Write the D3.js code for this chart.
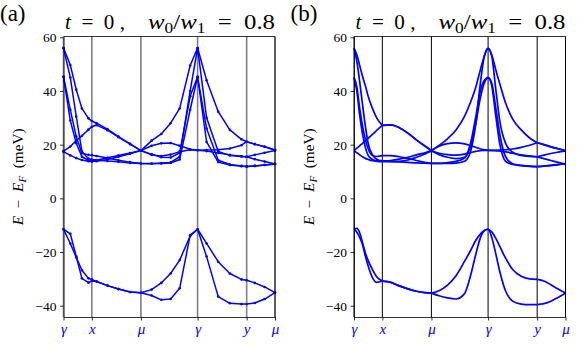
<!doctype html>
<html>
<head>
<meta charset="utf-8">
<style>
  body { margin: 0; background: #fff; }
  text { font-family: "Liberation Serif", "DejaVu Serif", serif; fill: #000; }
  .pre { white-space: pre; }
</style>
<script src="https://d3js.org/d3.v7.min.js"></script>
</head>
<body>
<svg width="581" height="349" id="chart"></svg>
<script>
// path  gamma -> x -> mu -> gamma -> y -> mu  (short side = 1)
var kLabels = ["γ", "x", "μ", "γ", "y", "μ"];
var kTicks = [0, 1, 2.732, 4.732, 6.464, 7.464];
var yTicks = [-40, -20, 0, 20, 40, 60];

// (a) coarse k mesh, bands (meV)
var kA = [0, 0.24, 0.45, 0.65, 0.88, 1.0, 1.17, 1.55, 1.94, 2.35, 2.732, 3.11, 3.45, 3.78, 4.1, 4.47, 4.732,
          5.05, 5.46, 5.87, 6.28, 6.464, 6.75, 7.1, 7.464];
var aU1  = [56, 49.7, 40.5, 33.5, 29.8, 28.8, 28.0, 25.8, 23.0, 20.3, 17.8, 21.5, 24.0, 28.0, 33.5, 49.5, 56.0,
            44.0, 32.3, 25.5, 22.0, 21.1, 20.2, 19.2, 18.0];
var aP56 = [56, 45, 30.5, 17.5, 14.8, 14.5, 14.3, 13.9, 13.6, 13.2, 13.0, 13.0, 13.2, 13.4, 15.5, 40, 56.0,
            30, 17.5, 16.0, 15.6, 15.5, 14.6, 13.7, 12.8];
var aP45 = [45.3, 33, 23, 16.8, 16.2, 16.1, 15.8, 15.0, 14.2, 13.5, 13.0, 12.9, 13.0, 13.2, 14.5, 33, 45.3,
            21, 13.5, 12.4, 12.0, 11.9, 12.1, 12.4, 12.8];
var aQ45 = [45.3, 29, 20.5, 15.5, 14.2, 14.0, 14.2, 15.1, 16.0, 16.9, 17.8, 16.4, 15.3, 15.2, 17.0, 38, 45.3,
            26, 14.2, 12.6, 12.1, 11.9, 12.1, 12.4, 12.8];
var aH   = [17.6, 19.3, 21.5, 23.3, 25.6, 26.7, 27.3, 25.4, 22.8, 20.2, 17.8, 19.6, 20.5, 20.6, 19.6, 18.3, 17.9,
            18.0, 18.1, 18.6, 19.8, 21.1, 20.2, 19.2, 18.0];
var aF   = [17.4, 16.0, 15.0, 14.3, 13.8, 13.7, 13.8, 14.5, 15.5, 16.6, 17.8, 16.2, 15.8, 16.3, 17.4, 18.1, 17.9,
            17.6, 16.9, 16.2, 15.7, 15.5, 16.2, 17.0, 17.8];
var aLa  = [-11.5, -16.8, -22.0, -26.8, -29.8, -30.2, -31.0, -32.5, -33.8, -34.9, -35.2, -34.0, -31.5, -28.0, -23.0, -14.0, -11.5,
            -16.8, -23.6, -28.0, -30.2, -30.5, -31.5, -33.0, -35.1];
var aLb  = [-11.5, -13.2, -21.7, -29.8, -31.4, -30.8, -31.0, -32.5, -33.8, -34.9, -35.2, -36.2, -37.8, -37.5, -33.5, -13.7, -11.5,
            -21.7, -36.6, -39.1, -39.4, -39.4, -39.0, -37.5, -35.1];

// (b) fine k mesh
var kB = [0, 0.1, 0.2, 0.3, 0.4, 0.5, 0.65, 0.8, 1.0,
          1.3, 1.6, 1.9, 2.2, 2.5, 2.732,
          3.0, 3.3, 3.6, 3.9, 4.1, 4.3, 4.45, 4.6, 4.732,
          4.86, 5.0, 5.15, 5.35, 5.6, 5.9, 6.2, 6.464,
          6.7, 6.95, 7.2, 7.464];
var bU1  = [56, 53.5, 49.5, 45.5, 42, 38, 33.5, 30, 27.2,
            27.4, 26.3, 24.3, 21.8, 19.5, 17.8,
            19.7, 22.2, 25.5, 30.5, 35.5, 41.5, 47.5, 53, 55.9,
            53.5, 48, 42.5, 35.5, 29.5, 25.5, 22.5, 20.7,
            20.0, 19.2, 18.5, 17.8];
var bP56 = [56, 51, 43.5, 35, 27, 20.5, 16.3, 14.6, 14.0,
            13.8, 13.6, 13.4, 13.2, 13.1, 13.0,
            13.0, 13.0, 13.1, 13.8, 17, 28, 42, 53, 55.9,
            53, 41, 28.5, 20.5, 17.2, 16.0, 15.6, 15.5,
            14.8, 14.1, 13.4, 12.8];
var bP45 = [45, 41.5, 33.5, 27, 22, 18.5, 16, 15.6, 15.9,
            15.9, 15.5, 14.9, 14.1, 13.4, 13.0,
            13.0, 13.3, 13.8, 15, 19, 28, 37, 43, 45,
            42, 31, 20, 13.8, 12.6, 12.2, 11.9, 11.8,
            12.0, 12.3, 12.6, 12.8];
var bQ45 = [45, 40, 31, 24, 19, 16, 14.5, 14.0, 13.9,
            14.1, 14.6, 15.3, 16.2, 17.0, 17.7,
            16.3, 15.3, 14.8, 15.3, 20, 30.5, 39.5, 44, 45,
            43, 34, 23.5, 15.5, 12.9, 12.3, 12.0, 11.8,
            12.0, 12.3, 12.6, 12.8];
var bH   = [17.8, 18.7, 19.6, 20.5, 21.5, 22.4, 23.8, 25.3, 27.2,
            27.4, 26.3, 24.3, 21.8, 19.5, 17.8,
            19.4, 20.4, 20.7, 20.3, 19.7, 19.0, 18.5, 18.1, 17.9,
            17.9, 17.9, 18.0, 18.1, 18.4, 19.0, 19.8, 20.7,
            20.0, 19.2, 18.5, 17.8];
var bF   = [17.8, 17.0, 16.2, 15.5, 14.9, 14.5, 14.0, 13.8, 13.7,
            13.7, 13.8, 14.3, 15.3, 16.5, 17.7,
            16.8, 16.3, 16.1, 16.5, 17.0, 17.5, 17.8, 17.9, 17.9,
            17.9, 17.8, 17.6, 17.3, 16.8, 16.2, 15.8, 15.5,
            16.1, 16.7, 17.2, 17.7];
var bLa  = [-11.5, -11.2, -12.8, -16.5, -20.3, -23.2, -26.5, -29.2, -30.8,
            -31.3, -32.6, -33.7, -34.6, -35.1, -35.3,
            -34.4, -32.3, -28.8, -23.5, -19.7, -15.6, -13.4, -12.0, -11.5,
            -12.5, -14.8, -18, -22.3, -26.5, -29, -30, -30.2,
            -30.8, -32.2, -33.8, -35.3];
var bLb  = [-11.5, -12.6, -14.5, -17.2, -21.5, -25.2, -29.5, -31.3, -30.8,
            -31.3, -32.6, -33.7, -34.6, -35.1, -35.3,
            -36.3, -37.1, -37.5, -35.5, -29.3, -20.8, -15.0, -12.0, -11.5,
            -14.5, -20.5, -27.5, -34.5, -38.3, -39.4, -39.6, -39.6,
            -39.2, -38.3, -36.9, -35.3];

var bandsA = [aU1, aP56, aP45, aQ45, aH, aF, aLa, aLb];
var bandsB = [bU1, bP56, bP45, bQ45, bH, bF, bLa, bLb];

var svg = d3.select("#chart");
var yDomain = [-44.2, 60.3];
var top_ = 36.5, bottom = 317;
var serif = "'Liberation Serif', 'DejaVu Serif', serif";

// stretch a text along its own direction so it covers a given length
function fitWidth(sel, len, place) {
    var w = sel.node().getComputedTextLength();
    sel.attr("transform", place + " scale(" + (len / w) + ",1)");
}

function drawPanel(left, right, tag, ks, bands, coarse) {
    var x = d3.scaleLinear().domain([0, kTicks[kTicks.length - 1]]).range([left, right]),
        y = d3.scaleLinear().domain(yDomain).range([bottom, top_]);
    var g = svg.append("g");

    // vertical lines at the high-symmetry points
    g.selectAll(".sym").data(kTicks).enter().append("line")
        .attr("x1", function(d) { return x(d); })
        .attr("x2", function(d) { return x(d); })
        .attr("y1", top_).attr("y2", bottom)
        .attr("stroke", coarse ? "#808080" : "#000")
        .attr("stroke-width", coarse ? 1.6 : 1);

    // split the smooth curves at x, mu and y so the crossings stay sharp
    var cuts = [0];
    ks.forEach(function(k, i) {
        if (k === kTicks[1] || k === kTicks[2] || k === kTicks[4]) cuts.push(i);
    });
    cuts.push(ks.length - 1);

    var line = d3.line()
        .x(function(d) { return x(d[0]); })
        .y(function(d) { return y(d[1]); })
        .curve(coarse ? d3.curveLinear : d3.curveMonotoneX);

    bands.forEach(function(band) {
        var pts = ks.map(function(k, i) { return [k, band[i]]; });
        var pieces = coarse ? [pts] : d3.range(cuts.length - 1).map(function(c) {
            return pts.slice(cuts[c], cuts[c + 1] + 1);
        });
        pieces.forEach(function(p) {
            g.append("path").datum(p)
                .attr("d", line)
                .attr("fill", "none")
                .attr("stroke", "#0000ff")
                .attr("stroke-width", coarse ? 1.5 : 1.7)
                .attr("stroke-linejoin", "round");
        });
        if (coarse) {
            g.selectAll(null).data(pts).enter().append("circle")
                .attr("cx", function(d) { return x(d[0]); })
                .attr("cy", function(d) { return y(d[1]); })
                .attr("r", 1.3)
                .attr("fill", "#0000ff");
        }
    });

    // axes
    var ya = g.append("g").attr("transform", "translate(" + left + ",0)")
        .call(d3.axisLeft(y).tickValues(yTicks).tickSize(3.5).tickSizeOuter(0).tickPadding(3.5)
            .tickFormat(function(d) { return d < 0 ? "\u2212" + (-d) : d; }));
    ya.attr("font-family", serif).attr("font-size", 13.5);
    ya.selectAll("text").style("font-family", serif).style("font-size", "13.5px");

    var xa = g.append("g").attr("transform", "translate(0," + bottom + ")")
        .call(d3.axisBottom(x).tickValues(kTicks).tickSize(3.5).tickSizeOuter(0).tickPadding(3)
            .tickFormat(function(d, i) { return kLabels[i]; }));
    xa.attr("font-family", serif).attr("font-size", 15);
    xa.selectAll("text").style("font-family", serif).style("font-size", "15px")
        .style("font-style", "italic").style("fill", "#0000ff");

    g.selectAll(".domain").attr("stroke-width", 0.8);
    g.selectAll(".tick line").attr("stroke-width", 0.8);
    g.append("path")
        .attr("d", "M" + left + "," + top_ + "H" + right + "V" + bottom)
        .attr("fill", "none").attr("stroke", "#000").attr("stroke-width", 0.8);

    // y label
    var yl = g.append("text").attr("class", "pre")
        .attr("text-anchor", "middle").attr("font-size", "14px");
    yl.append("tspan").attr("font-style", "italic").text("E");
    yl.append("tspan").text("  \u2212  ");
    yl.append("tspan").attr("font-style", "italic").text("E");
    yl.append("tspan").attr("font-style", "italic").attr("font-size", "10px").attr("dy", 3).text("F");
    yl.append("tspan").attr("dy", -3).text("  (meV)");
    fitWidth(yl, 97, "translate(" + (left - 40.5) + "," + ((top_ + bottom) / 2) + ") rotate(-90)");

    // panel tag and title
    svg.append("text").attr("x", left - 63.5).attr("y", 20.5).attr("font-size", "23px").text(tag);

    var t1 = svg.append("text").attr("class", "pre").attr("font-size", "20px");
    t1.append("tspan").attr("font-style", "italic").text("t");
    t1.append("tspan").text("  =  0 ,");
    fitWidth(t1, 60, "translate(" + (left + 1.5) + ",29)");

    var t2 = svg.append("text").attr("class", "pre").attr("text-anchor", "end").attr("font-size", "20px");
    t2.append("tspan").attr("font-style", "italic").text("w");
    t2.append("tspan").attr("font-size", "14px").attr("dy", 4).text("0");
    t2.append("tspan").attr("dy", -4).text("/");
    t2.append("tspan").attr("font-style", "italic").text("w");
    t2.append("tspan").attr("font-size", "14px").attr("dy", 4).text("1");
    t2.append("tspan").attr("dy", -4).text("  =  0.8");
    fitWidth(t2, 127, "translate(" + right + ",29)");
}

drawPanel(63.5, 275, "(a)", kA, bandsA, true);
drawPanel(354, 565.5, "(b)", kB, bandsB, false);
</script>
</body>
</html>
